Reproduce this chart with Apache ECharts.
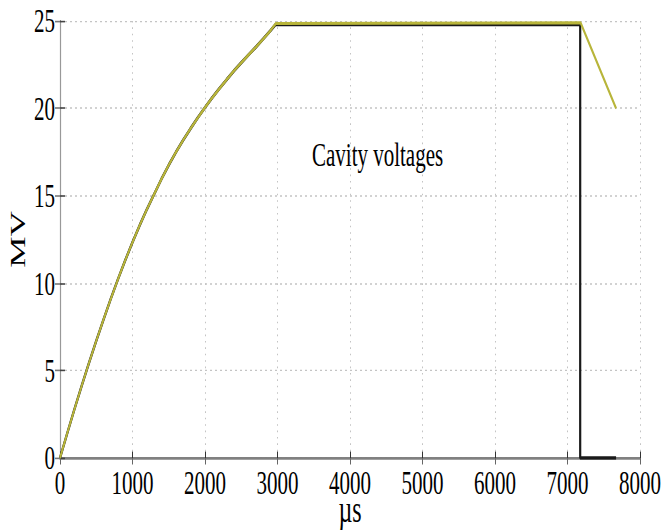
<!DOCTYPE html>
<html>
<head>
<meta charset="utf-8">
<script src="https://cdn.jsdelivr.net/npm/echarts@6/dist/echarts.min.js"></script>
<style>
html,body{margin:0;padding:0;background:#fff;overflow:hidden;}
#wrap{width:663px;height:531px;overflow:hidden;}
#chart{width:663px;height:332px;transform:scaleY(1.6);transform-origin:0 0;}
</style>
</head>
<body>
<div id="wrap"><div id="chart"></div></div>
<script>
// Rise of the cavity voltage (µs, MV)
var riseTime = [0, 100, 200, 300, 400, 500, 600, 700, 800, 900, 1000, 1100, 1200, 1300, 1400, 1500,
                1600, 1700, 1800, 1900, 2000, 2100, 2200, 2300, 2400, 2500, 2600, 2700, 2800, 2900, 2975];
var riseVolt = [0, 1.42, 2.80, 4.14, 5.44, 6.70, 7.92, 9.10, 10.23, 11.31, 12.34, 13.32, 14.24, 15.10, 15.96, 16.76,
                17.50, 18.19, 18.84, 19.46, 20.05, 20.61, 21.14, 21.65, 22.15, 22.61, 23.06, 23.50, 23.96, 24.43, 24.85];
// Flat-top and end of pulse
var flatVoltYellow = 24.9;
var flatVoltBlack = 24.8;
var cutTime = 7180;
var endTime = 7670;
var endVoltYellow = 20;
var endVoltBlack = 0;
// Axis ticks
var xTicks = [0, 1000, 2000, 3000, 4000, 5000, 6000, 7000, 8000];
var yTicks = [0, 5, 10, 15, 20, 25];

var yellow = riseTime.map(function (t, i) { return [t, riseVolt[i]]; });
yellow.push([cutTime, flatVoltYellow], [endTime, endVoltYellow]);

var black = riseTime.map(function (t, i) { return [t, Math.min(riseVolt[i], flatVoltBlack)]; });
black.push([cutTime - 5, flatVoltBlack], [cutTime - 5, 0], [endTime, endVoltBlack]);

var font = 'Liberation Serif';
var chart = echarts.init(document.getElementById('chart'), null, {renderer: 'svg'});
chart.setOption({
  animation: false,
  grid: {left: 60, right: 23, top: 13.1, bottom: 45.75, containLabel: false, outerBoundsMode: 'none'},
  xAxis: [{
    type: 'value', min: xTicks[0], max: xTicks[xTicks.length - 1], interval: 1000,
    position: 'bottom',
    name: 'µs', nameLocation: 'middle', nameGap: 23.5, nameMoveOverlap: false,
    nameTextStyle: {fontFamily: font, fontSize: 24, lineHeight: 16, color: '#000'},
    axisLine: {lineStyle: {color: '#111', width: 1.2}},
    axisTick: {inside: true, length: 4, lineStyle: {color: '#333'}},
    axisLabel: {fontFamily: font, fontSize: 21, lineHeight: 16, color: '#000', margin: 7.5,
      formatter: function (v) { return String(v); }},
    splitLine: {show: true, lineStyle: {color: '#c4c4c4', type: [1, 3], width: 1}}
  }, {
    type: 'value', min: xTicks[0], max: xTicks[xTicks.length - 1], interval: 1000,
    position: 'top',
    axisLine: {show: true, lineStyle: {color: '#808080', width: 1.3}},
    axisTick: {show: true, inside: true, length: 4, lineStyle: {color: '#666'}},
    axisLabel: {show: false},
    splitLine: {show: false}
  }],
  yAxis: [{
    type: 'value', min: yTicks[0], max: yTicks[yTicks.length - 1], interval: 5,
    position: 'left',
    name: 'MV', nameLocation: 'middle', nameGap: 31, nameMoveOverlap: false,
    nameTextStyle: {fontFamily: font, fontSize: 22, color: '#000'},
    axisLine: {show: true, lineStyle: {color: '#555', width: 1}},
    axisTick: {show: true, inside: true, length: 5, lineStyle: {color: '#444'}},
    axisLabel: {fontFamily: font, fontSize: 21, color: '#000', margin: 5},
    splitLine: {show: true, lineStyle: {color: '#c4c4c4', type: [2, 3], width: 0.8}}
  }, {
    type: 'value', min: yTicks[0], max: yTicks[yTicks.length - 1], interval: 5,
    position: 'right',
    axisLine: {show: true, lineStyle: {color: '#999', width: 1.2}},
    axisTick: {show: true, inside: true, length: 5, lineStyle: {color: '#777'}},
    axisLabel: {show: false},
    splitLine: {show: false}
  }],
  graphic: [{
    type: 'text', left: 312, top: 86,
    style: {text: 'Cavity voltages', fontFamily: font, fontSize: 21, fill: '#000'}
  }],
  series: [{
    type: 'line', data: black, showSymbol: false, symbol: 'none',
    lineStyle: {color: '#1a1a1a', width: 2.2}, z: 2
  }, {
    type: 'line', data: yellow, showSymbol: false, symbol: 'none',
    lineStyle: {color: '#b8b53a', width: 1.9}, z: 3
  }]
});
</script>
</body>
</html>
